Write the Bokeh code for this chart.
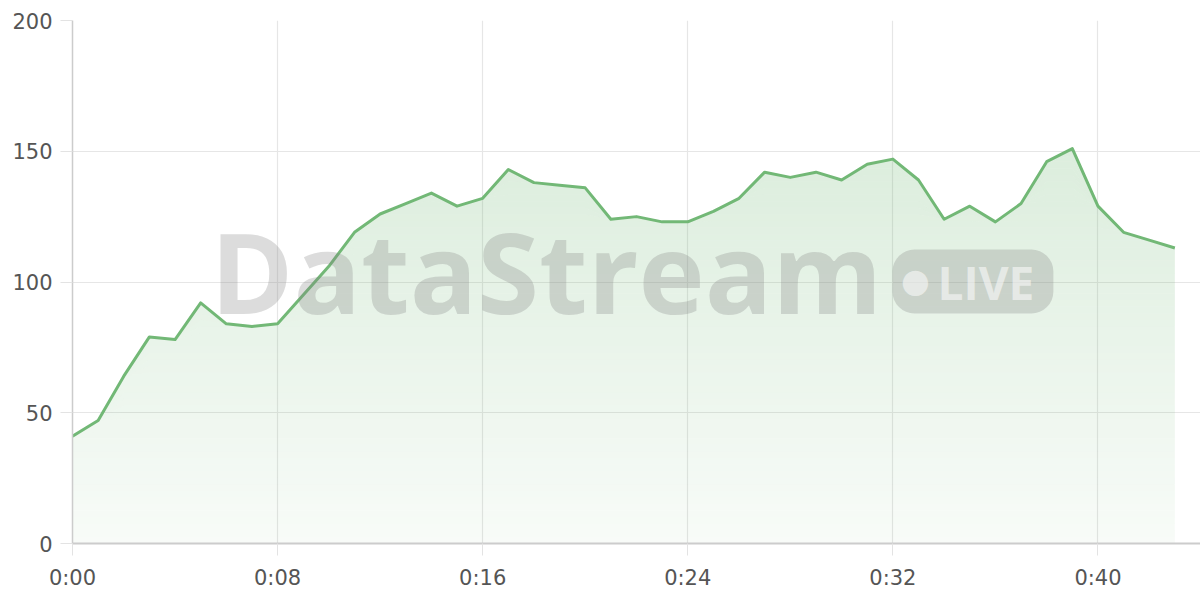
import numpy as np
from bokeh.plotting import figure
from bokeh.models import Range1d, FixedTicker, Label
from bokeh.embed import file_html
from bokeh.resources import INLINE

# ---- data ----
minutes = list(range(44))
values = [41, 47, 64, 79, 78, 92, 84, 83, 84, 95,
          106, 119, 126, 130, 134, 129, 132, 143, 138, 137,
          136, 124, 125, 123, 123, 127, 132, 142, 140, 142,
          139, 145, 147, 139, 124, 129, 123, 130, 146, 151,
          129, 119, 116, 113]
x_ticks = [0, 8, 16, 24, 32, 40]
x_tick_labels = ["0:00", "0:08", "0:16", "0:24", "0:32", "0:40"]
y_ticks = [0, 50, 100, 150, 200]

LINE = "#72b876"
FONT = "DejaVu Sans"

p = figure(width=1200, height=600, output_backend="svg", toolbar_location=None,
           x_range=Range1d(0, 44), y_range=Range1d(0, 200),
           min_border_left=72, min_border_right=0, min_border_top=20, min_border_bottom=57)
p.outline_line_color = None
p.background_fill_color = "white"
p.border_fill_color = "white"

# gradient-like fill built from stacked bands
xs = np.array(minutes, dtype=float)
vs = np.array(values, dtype=float)
vmax = vs.max()
nb = 60
edges = np.linspace(0, vmax, nb + 1)
for i in range(nb):
    lo, hi = edges[i], edges[i + 1]
    mid = 0.5 * (lo + hi)
    a = 0.05 + 0.20 * (mid / vmax)
    p.varea(x=xs, y1=np.minimum(vs, lo), y2=np.minimum(vs, hi),
            fill_color=LINE, fill_alpha=a)

p.line(xs, vs, line_color=LINE, line_width=3, line_join="round")

# axes
p.xaxis.ticker = FixedTicker(ticks=x_ticks)
p.xaxis.major_label_overrides = {t: l for t, l in zip(x_ticks, x_tick_labels)}
p.yaxis.ticker = FixedTicker(ticks=y_ticks)
for ax in (p.xaxis, p.yaxis):
    ax.minor_tick_line_color = None
    ax.major_tick_in = 0
    ax.major_tick_out = 12
    ax.major_tick_line_color = "#e3e3e3"
    ax.major_tick_line_width = 1
    ax.major_label_text_font = FONT
    ax.major_label_text_font_size = "21px"
    ax.major_label_text_color = "#555555"
    ax.axis_line_color = "#cccccc"
p.xaxis.axis_line_width = 2
p.yaxis.axis_line_width = 1.5
p.xaxis.major_label_standoff = 10
p.yaxis.major_label_standoff = 8

p.xgrid.ticker = FixedTicker(ticks=x_ticks)
p.ygrid.ticker = FixedTicker(ticks=y_ticks)
p.grid.grid_line_color = "#e6e6e6"
p.grid.grid_line_width = 1.2

# watermark
p.add_layout(Label(x=138, y=273, x_units="screen", y_units="screen", text="DataStream",
                   text_font="Open Sans", text_font_style="bold", text_font_size="112px",
                   text_color="#808080", text_alpha=0.28, text_baseline="middle"))
p.add_layout(Label(x=820, y=262, x_units="screen", y_units="screen", text="LIVE",
                   text_font="Open Sans", text_font_style="bold", text_font_size="46px",
                   text_color="white", text_alpha=0.55, text_baseline="middle",
                   background_fill_color="#808080", background_fill_alpha=0.28,
                   border_radius=22,
                   padding=dict(left=45, right=19, top=1, bottom=1)))
p.add_layout(Label(x=843, y=263, x_units="screen", y_units="screen", text="\u25cf",
                   text_font="DejaVu Sans", text_font_size="33px", text_align="center",
                   text_color="white", text_alpha=0.55, text_baseline="middle"))

open("out.html", "w").write(file_html(p, INLINE))
